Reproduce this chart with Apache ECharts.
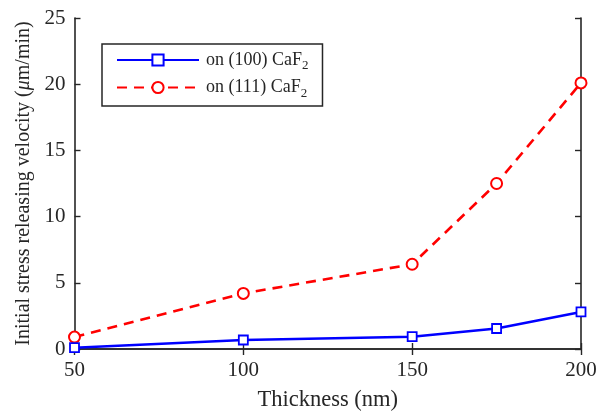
<!DOCTYPE html>
<html>
<head>
<meta charset="utf-8">
<script src="https://cdn.jsdelivr.net/npm/echarts@6/dist/echarts.min.js"></script>
<style>
  html, body { margin: 0; padding: 0; background: #fff; }
  #chart { width: 605px; height: 414px; }
</style>
</head>
<body>
<div id="chart"></div>
<script>
// thickness (nm) and initial stress releasing velocity (um/min)
const thickness = [50, 100, 150, 175, 200]
const onCaF2_100 = [0.1, 0.68, 0.93, 1.55, 2.8]
const onCaF2_111 = [0.9, 4.2, 6.4, 12.5, 20.1]
const xTicks = [50, 100, 150, 200]
const seriesNames = ['on (100) CaF{sub|2}', 'on (111) CaF{sub|2}']

const font = '"Liberation Serif", "DejaVu Serif", serif'
const ink = '#262626'
const chart = echarts.init(document.getElementById('chart'))

const axisCommon = {
  axisLine: { show: true, lineStyle: { color: ink, width: 1.6 } },
  axisTick: { show: true, inside: true, length: 6, lineStyle: { color: ink, width: 1.4 } },
  splitLine: { show: false },
}

chart.setOption({
  animation: false,
  textStyle: { fontFamily: font },
  grid: { left: 74.5, right: 24, top: 18, bottom: 65, outerBoundsMode: 'none', containLabel: false },
  legend: {
    orient: 'vertical',
    left: 102,
    top: 44,
    width: 218,
    padding: [7, 14, 6, 14],
    itemGap: 6,
    itemWidth: 82,
    itemHeight: 14,
    borderColor: ink,
    borderWidth: 1.5,
    backgroundColor: '#fff',
    textStyle: {
      fontFamily: font,
      fontSize: 18,
      color: ink,
      padding: [0, 0, 0, 2],
      rich: {
        sub: { fontSize: 13, verticalAlign: 'bottom', padding: [12, 0, 0, 0], fontFamily: font, color: ink },
      },
    },
    data: seriesNames,
  },
  xAxis: [
    {
      ...axisCommon,
      type: 'value',
      min: 50,
      max: 200,
      interval: 50,
      name: 'Thickness (nm)',
      nameLocation: 'middle',
      nameGap: 40,
      nameTextStyle: { fontSize: 22.5, color: ink, fontFamily: font },
      axisLabel: {
        fontSize: 21,
        color: ink,
        margin: 11,
        fontFamily: font,
        customValues: xTicks,
      },
      axisTick: { ...axisCommon.axisTick, customValues: xTicks },
    },
    {
      ...axisCommon,
      type: 'value',
      position: 'top',
      min: 50,
      max: 200,
      interval: 50,
      axisLabel: { show: false },
    },
  ],
  yAxis: [
    {
      ...axisCommon,
      type: 'value',
      min: 0,
      max: 25,
      interval: 5,
      name: 'Initial stress releasing velocity ({i|μ}m/min)',
      nameLocation: 'middle',
      nameGap: 39,
      nameTextStyle: {
        fontSize: 20,
        color: ink,
        fontFamily: font,
        rich: { i: { fontStyle: 'italic', fontSize: 20, fontFamily: font, color: ink } },
      },
      axisLabel: { fontSize: 21, color: ink, margin: 9, fontFamily: font },
    },
    {
      ...axisCommon,
      type: 'value',
      position: 'right',
      min: 0,
      max: 25,
      interval: 5,
      axisLabel: { show: false },
    },
  ],
  series: [
    {
      name: seriesNames[0],
      type: 'line',
      data: thickness.map((t, i) => [t, onCaF2_100[i]]),
      symbol: 'rect',
      symbolSize: 9,
      showAllSymbol: true,
      lineStyle: { color: '#0000ff', width: 2.6 },
      itemStyle: { color: '#fff', borderColor: '#0000ff', borderWidth: 1.8 },
      z: 3,
    },
    {
      name: seriesNames[1],
      type: 'line',
      data: thickness.map((t, i) => [t, onCaF2_111[i]]),
      symbol: 'emptyCircle',
      symbolSize: 11,
      showAllSymbol: true,
      lineStyle: { color: '#ff0000', width: 2.6, type: [10, 7] },
      itemStyle: { color: '#ff0000', borderColor: '#ff0000', borderWidth: 1.8 },
      z: 2,
    },
  ],
})
</script>
</body>
</html>
